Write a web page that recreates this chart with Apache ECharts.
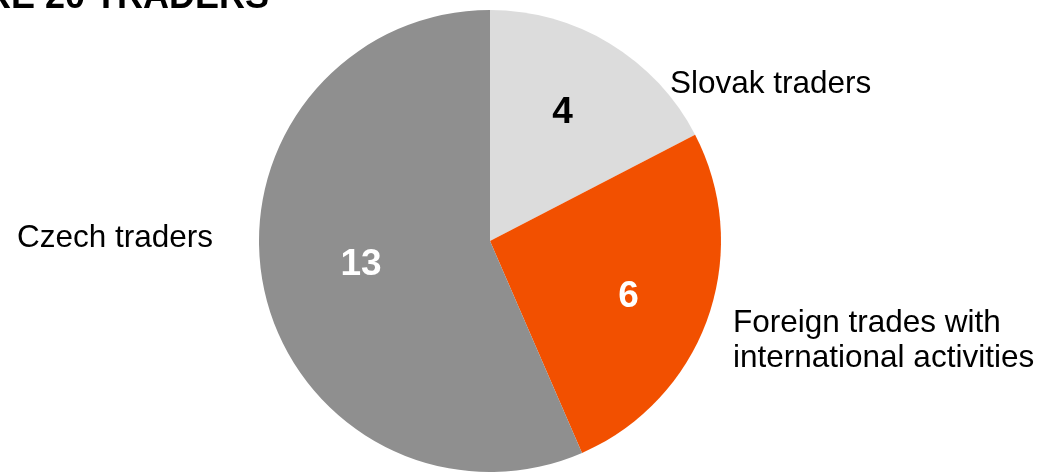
<!DOCTYPE html>
<html>
<head>
<meta charset="utf-8">
<script src="https://cdn.jsdelivr.net/npm/echarts@6/dist/echarts.min.js"></script>
<style>
  html, body { margin: 0; padding: 0; background: #ffffff; }
  #chart { width: 1042px; height: 472px; }
</style>
</head>
<body>
<div id="chart"></div>
<script>
// Trader groups and how many of the traders fall into each
const categories = ['Slovak traders', 'Foreign trades with\ninternational activities', 'Czech traders'];
const traderCounts = [4, 6, 13];
const titleText = 'THE CORE 20 TRADERS';

const sliceColors = ['#dcdcdc', '#f25000', '#8f8f8f'];
const valueTextColors = ['#000000', '#ffffff', '#ffffff'];

const FONT = '"Liberation Sans", Arial, Helvetica, sans-serif';

// Nudges for the in-slice value labels (px, from the default inside spot)
const valueOffsets = [[11, -27], [27, 16], [-13, 0]];
// Placement of the category names beside the pie
const nameSpots = [
  { x: 670, y: 84, align: 'left' },
  { x: 733, y: 341, align: 'left' },
  { x: 213, y: 238, align: 'right' }
];

const pieCenter = [490, 241];
const pieRadius = 231;

const sliceData = categories.map((name, i) => ({
  name: name,
  value: traderCounts[i],
  itemStyle: { color: sliceColors[i] },
  label: { color: valueTextColors[i] }
}));

const nameData = categories.map((name, i) => ({
  name: name,
  value: traderCounts[i]
}));

const chart = echarts.init(document.getElementById('chart'), null, { renderer: 'canvas' });

chart.setOption({
  animation: false,
  backgroundColor: '#ffffff',
  graphic: [{
    type: 'text',
    x: 269,
    y: -2,
    style: {
      text: titleText,
      fill: '#000000',
      font: 'bold 36px ' + FONT,
      align: 'right',
      verticalAlign: 'middle'
    }
  }],
  series: [
    {
      // Slices with their counts written inside
      type: 'pie',
      center: pieCenter,
      radius: pieRadius,
      startAngle: 90,
      clockwise: true,
      silent: true,
      itemStyle: { borderWidth: 0 },
      label: {
        show: true,
        position: 'inside',
        formatter: '{c}',
        fontFamily: FONT,
        fontWeight: 'bold',
        fontSize: 37
      },
      labelLine: { show: false },
      labelLayout: function (p) {
        const o = valueOffsets[p.dataIndex];
        return { dx: o[0], dy: o[1] };
      },
      emphasis: { disabled: true },
      data: sliceData
    },
    {
      // Same pie, invisible, carrying the category names outside
      type: 'pie',
      center: pieCenter,
      radius: pieRadius,
      startAngle: 90,
      clockwise: true,
      silent: true,
      itemStyle: { color: 'rgba(0,0,0,0)' },
      label: {
        show: true,
        position: 'outside',
        formatter: '{b}',
        color: '#000000',
        fontFamily: FONT,
        fontSize: 31.5,
        lineHeight: 35,
        overflow: 'none',
        width: 420
      },
      labelLine: { show: false },
      labelLayout: function (p) {
        const s = nameSpots[p.dataIndex];
        return { x: s.x, y: s.y, align: s.align, verticalAlign: 'middle' };
      },
      emphasis: { disabled: true },
      data: nameData
    }
  ]
});
</script>
</body>
</html>
